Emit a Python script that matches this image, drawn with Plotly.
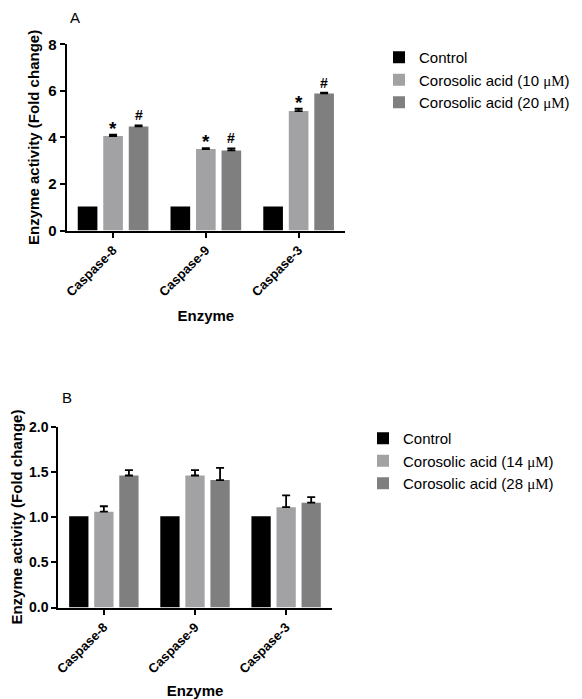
import plotly.graph_objects as go

# ---------------- data ----------------
categories = ["Caspase-8", "Caspase-9", "Caspase-3"]

# Panel A
a_control = [1.03, 1.03, 1.03]
a_ca10 = [4.06, 3.50, 5.13]
a_ca10_err = [0.06, 0.04, 0.10]
a_ca20 = [4.47, 3.44, 5.89]
a_ca20_err = [0.05, 0.09, 0.03]
a_ca10_sig = ["*", "*", "*"]
a_ca20_sig = ["#", "#", "#"]

# Panel B
b_control = [1.01, 1.01, 1.01]
b_ca14 = [1.06, 1.46, 1.11]
b_ca14_err = [0.06, 0.06, 0.13]
b_ca28 = [1.46, 1.41, 1.16]
b_ca28_err = [0.06, 0.135, 0.06]

names_a = ["Control", "Corosolic acid (10 \u03bcM)", "Corosolic acid (20 \u03bcM)"]
names_b = ["Control", "Corosolic acid (14 \u03bcM)", "Corosolic acid (28 \u03bcM)"]

# ---------------- style ----------------
# the page body has an 8px margin, so the figure is 8px smaller and all
# pixel positions (measured in the window) are shifted by OFF
OFF = 8
W, H = 582 - OFF, 699 - OFF
FONT = "Liberation Sans, Arial, sans-serif"
C_CTRL = "#000000"
C_LOW = "#a2a2a5"
C_HIGH = "#7f7f7f"
BARGAP = 0.175


def px(x):
    return (x - OFF) / W


def py(y):
    return 1 - (y - OFF) / H


def fmt_name(n):
    return n.replace("\u03bc", '<span style="font-family:Liberation Serif">\u03bc</span>') \
            .replace("M)", '<span style="font-family:Liberation Serif">M</span>)')


def err(arr):
    return dict(type="data", symmetric=False, array=arr, arrayminus=[0] * len(arr),
                color="black", thickness=1.8, width=4)


fig = go.Figure()

# Panel A traces
fig.add_trace(go.Bar(x=categories, y=a_control, name=fmt_name(names_a[0]), marker_color=C_CTRL,
                     xaxis="x", yaxis="y", legend="legend"))
fig.add_trace(go.Bar(x=categories, y=a_ca10, name=fmt_name(names_a[1]), marker_color=C_LOW,
                     error_y=err(a_ca10_err), xaxis="x", yaxis="y", legend="legend"))
fig.add_trace(go.Bar(x=categories, y=a_ca20, name=fmt_name(names_a[2]), marker_color=C_HIGH,
                     error_y=err(a_ca20_err), xaxis="x", yaxis="y", legend="legend"))

# Panel B traces
fig.add_trace(go.Bar(x=categories, y=b_control, name=fmt_name(names_b[0]), marker_color=C_CTRL,
                     xaxis="x2", yaxis="y2", legend="legend2"))
fig.add_trace(go.Bar(x=categories, y=b_ca14, name=fmt_name(names_b[1]), marker_color=C_LOW,
                     error_y=err(b_ca14_err), xaxis="x2", yaxis="y2", legend="legend2"))
fig.add_trace(go.Bar(x=categories, y=b_ca28, name=fmt_name(names_b[2]), marker_color=C_HIGH,
                     error_y=err(b_ca28_err), xaxis="x2", yaxis="y2", legend="legend2"))

for t in fig.data:
    t.marker.line.width = 0

# significance markers
slot = (1 - BARGAP) / 3
annotations = []
for i, cat in enumerate(categories):
    annotations.append(dict(x=i, y=a_ca10[i] + a_ca10_err[i], xref="x", yref="y",
                            text="<b>%s</b>" % a_ca10_sig[i], showarrow=False,
                            yanchor="bottom", yshift=-6,
                            font=dict(family=FONT, size=19, color="black")))
    annotations.append(dict(x=i + slot, y=a_ca20[i] + a_ca20_err[i], xref="x", yref="y",
                            text="<b>%s</b>" % a_ca20_sig[i], showarrow=False,
                            yanchor="bottom", yshift=0,
                            font=dict(family=FONT, size=14, color="black")))

# panel letters
annotations.append(dict(x=px(74.5), y=1, xref="paper", yref="paper", text="A",
                        showarrow=False, font=dict(family=FONT, size=15, color="black"),
                        xanchor="center", yanchor="top", borderpad=0))
annotations.append(dict(x=px(67), y=py(397), xref="paper", yref="paper", text="B",
                        showarrow=False, font=dict(family=FONT, size=15, color="black"),
                        xanchor="center", yanchor="middle"))

axis_common = dict(showline=True, linecolor="black", linewidth=2, ticks="outside",
                   ticklen=5, tickwidth=1.8, tickcolor="black", showgrid=False,
                   zeroline=False, automargin=False, tickprefix="<b>", ticksuffix="</b>")

title_font = dict(family=FONT, size=15, color="black")
xtick_font = dict(family=FONT, size=13, color="black")

fig.update_layout(
    width=W, height=H,
    margin=dict(l=0, r=0, t=0, b=0),
    paper_bgcolor="white", plot_bgcolor="white",
    barmode="group", bargap=BARGAP, bargroupgap=0.23,
    font=dict(family=FONT, color="black"),
    xaxis=dict(domain=[px(66.7), px(345)], anchor="y", range=[-0.5, 2.5],
               tickangle=-45, tickfont=xtick_font,
               title=dict(text="<b>Enzyme</b>", font=title_font, standoff=12), **axis_common),
    yaxis=dict(domain=[py(230.5), py(44.3)], anchor="x", range=[0, 8], dtick=2,
               tickfont=dict(family=FONT, size=15, color="black"),
               title=dict(text="<b>Enzyme activity (Fold change)</b>", font=title_font, standoff=5),
               **axis_common),
    xaxis2=dict(domain=[px(58.3), px(331.7)], anchor="y2", range=[-0.5, 2.5],
                tickangle=-45, tickfont=xtick_font,
                title=dict(text="<b>Enzyme</b>", font=title_font, standoff=10), **axis_common),
    yaxis2=dict(domain=[py(607.5), py(426.7)], anchor="x2", range=[0, 2], dtick=0.5,
                tickformat=".1f", tickfont=dict(family=FONT, size=14, color="black"),
                title=dict(text="<b>Enzyme activity (Fold change)</b>", font=title_font, standoff=8),
                **axis_common),
    legend=dict(x=px(379), y=py(41), xanchor="left", yanchor="top",
                font=dict(family=FONT, size=15, color="black"), bgcolor="rgba(0,0,0,0)",
                traceorder="normal"),
    legend2=dict(x=px(363), y=py(422), xanchor="left", yanchor="top",
                 font=dict(family=FONT, size=15, color="black"), bgcolor="rgba(0,0,0,0)",
                 traceorder="normal"),
    annotations=annotations,
    showlegend=True,
)

fig.write_html("out.html")
